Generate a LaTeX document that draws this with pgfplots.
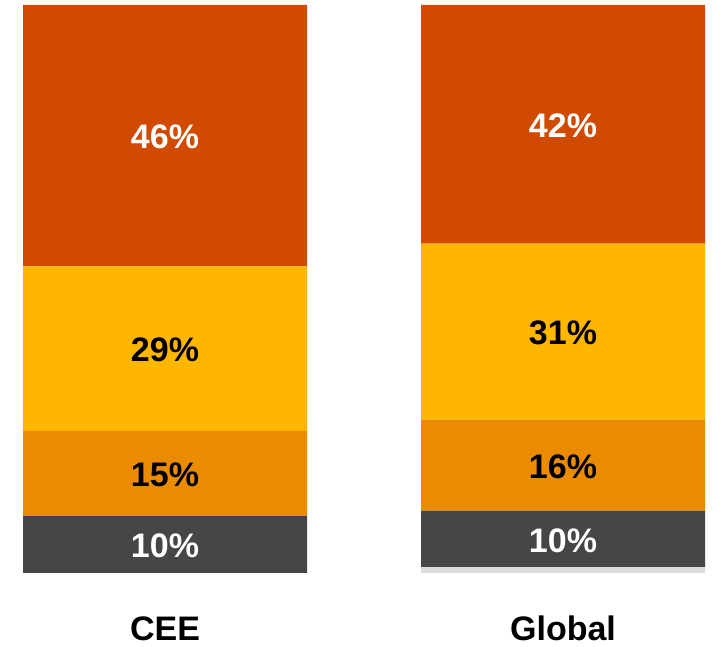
\documentclass[border=0pt]{standalone}
\usepackage{pgfplots}
\pgfplotsset{compat=1.18}
\usepackage{fontspec}
\setmainfont{Liberation Sans}
\definecolor{cRed}{HTML}{D04A02}
\definecolor{cYel}{HTML}{FFB600}
\definecolor{cOra}{HTML}{EB8C00}
\definecolor{cGry}{HTML}{464646}
\definecolor{cLgt}{HTML}{DCDCDC}
\tikzset{
  lbl/.style={font=\fontsize{34}{38}\selectfont\bfseries, anchor=center, inner sep=0pt, yshift=-1.5pt},
  cat/.style={font=\fontsize{34}{40}\selectfont\bfseries, anchor=base, inner sep=0pt},
}
\begin{document}
\begin{tikzpicture}
\begin{axis}[
  scale only axis, width=725pt, height=647pt,
  xmin=-0.4146, xmax=1.407, ymin=-13.03, ymax=100.88,
  hide axis, clip=false,
  ybar stacked, bar width=284pt,
  after end axis/.code={
    \node[lbl, text=white] at (axis cs:0,5) {10\%};
    \node[lbl, text=black] at (axis cs:0,17.5) {15\%};
    \node[lbl, text=black] at (axis cs:0,39.5) {29\%};
    \node[lbl, text=white] at (axis cs:0,77) {46\%};
    \node[lbl, text=white] at (axis cs:1,6) {10\%};
    \node[lbl, text=black] at (axis cs:1,19) {16\%};
    \node[lbl, text=black] at (axis cs:1,42.5) {31\%};
    \node[lbl, text=white] at (axis cs:1,79) {42\%};
    \node[cat] at (axis cs:0,-11.9) {CEE};
    \node[cat] at (axis cs:1,-11.9) {Global};
  },
]
\path (rel axis cs:0,0) rectangle (rel axis cs:1,1);
\addplot[fill=cLgt, draw=none] coordinates {(0,0) (1,1)};
\addplot[fill=cGry, draw=none] coordinates {(0,10) (1,10)};
\addplot[fill=cOra, draw=none] coordinates {(0,15) (1,16)};
\addplot[fill=cYel, draw=none] coordinates {(0,29) (1,31)};
\addplot[fill=cRed, draw=none] coordinates {(0,46) (1,42)};
\end{axis}
\end{tikzpicture}
\end{document}
